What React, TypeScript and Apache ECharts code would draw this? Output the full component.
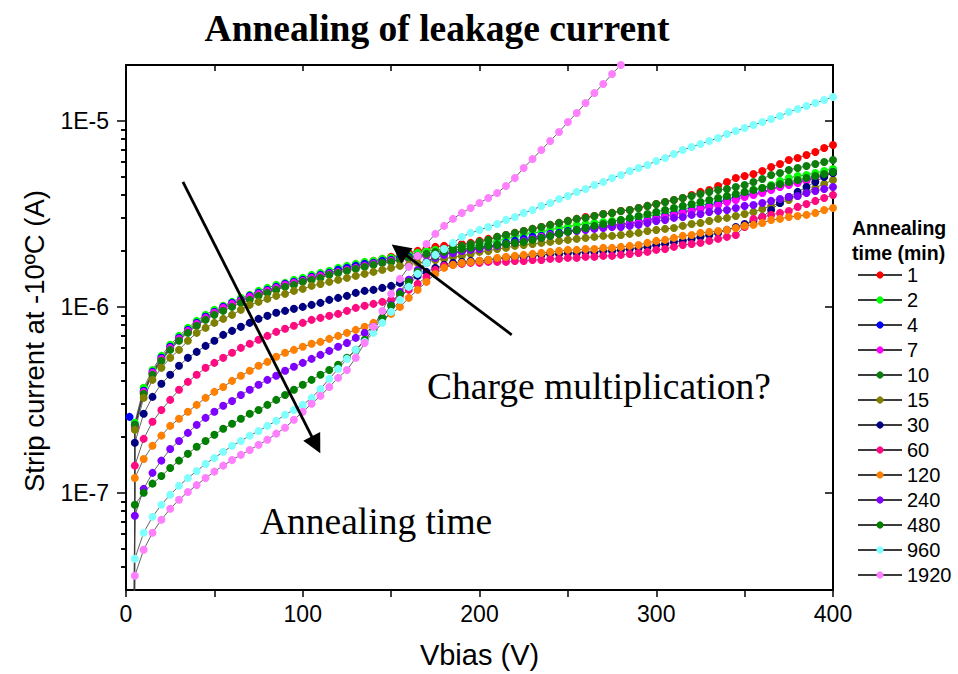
import { useEffect, useRef } from "react";
import * as echarts from "echarts";

// Bias voltage (V) of every measured point
const biasV = [
  5, 10, 15, 20, 25, 30, 35, 40, 45, 50, 55, 60, 65, 70, 75, 80, 85, 90, 95, 100,
  105, 110, 115, 120, 125, 130, 135, 140, 145, 150, 155, 160, 165, 170, 175, 180, 185, 190, 195, 200,
  205, 210, 215, 220, 225, 230, 235, 240, 245, 250, 255, 260, 265, 270, 275, 280, 285, 290, 295, 300,
  305, 310, 315, 320, 325, 330, 335, 340, 345, 350, 355, 360, 365, 370, 375, 380, 385, 390, 395, 400,
];

// Strip current in nA for each annealing time (min)
const ann1 = [224, 345, 436, 519, 595, 665, 734, 800, 862, 917, 976, 1025, 1077, 1118, 1160, 1204, 1250, 1297, 1346, 1380, 1432, 1468, 1523, 1562, 1621, 1661, 1703, 1767, 1812, 1857, 1904, 1951, 2000, 2050, 2102, 2128, 2154, 2181, 2209, 2264, 2321, 2379, 2438, 2500, 2562, 2627, 2692, 2760, 2829, 2900, 2973, 3047, 3085, 3162, 3202, 3282, 3323, 3406, 3492, 3579, 3669, 3761, 3855, 4001, 4153, 4257, 4473, 4700, 4938, 5062, 5189, 5386, 5659, 5873, 6171, 6326, 6565, 6814, 7160, 7431];
const ann2 = [238, 367, 458, 545, 625, 698, 771, 841, 906, 964, 1013, 1064, 1118, 1160, 1219, 1265, 1313, 1346, 1397, 1432, 1486, 1523, 1562, 1621, 1661, 1703, 1746, 1767, 1812, 1834, 1880, 1904, 1951, 2000, 2025, 2050, 2076, 2102, 2128, 2154, 2209, 2264, 2321, 2379, 2438, 2500, 2531, 2594, 2659, 2692, 2760, 2794, 2829, 2864, 2900, 2936, 2973, 3010, 3085, 3124, 3202, 3242, 3323, 3449, 3535, 3579, 3669, 3808, 3903, 4051, 4257, 4363, 4529, 4758, 4938, 5062, 5125, 5254, 5386, 5521];
const ann4 = [232, 354, 447, 532, 610, 681, 752, 820, 884, 940, 1000, 1051, 1091, 1146, 1189, 1234, 1281, 1329, 1363, 1397, 1450, 1486, 1523, 1581, 1621, 1661, 1703, 1724, 1767, 1789, 1834, 1857, 1880, 1904, 1927, 1951, 1976, 2000, 2050, 2076, 2128, 2154, 2209, 2264, 2321, 2379, 2409, 2469, 2500, 2562, 2594, 2659, 2692, 2726, 2760, 2794, 2829, 2864, 2936, 3010, 3085, 3162, 3242, 3323, 3406, 3492, 3624, 3761, 3855, 4001, 4051, 4153, 4310, 4473, 4585, 4700, 4818, 5000, 5125, 5319];
const ann7 = [226, 349, 442, 525, 602, 673, 743, 810, 873, 929, 988, 1038, 1077, 1132, 1175, 1219, 1265, 1313, 1346, 1380, 1432, 1468, 1505, 1542, 1581, 1621, 1661, 1703, 1724, 1767, 1789, 1812, 1857, 1880, 1904, 1927, 1951, 1976, 2000, 2050, 2076, 2128, 2181, 2209, 2264, 2321, 2379, 2438, 2469, 2531, 2594, 2627, 2659, 2692, 2726, 2760, 2794, 2829, 2900, 2973, 3047, 3124, 3202, 3282, 3364, 3449, 3535, 3669, 3761, 3903, 4001, 4101, 4257, 4418, 4529, 4642, 4758, 4938, 5062, 5254];
const ann10 = [232, 341, 431, 513, 587, 657, 725, 791, 851, 906, 952, 1000, 1051, 1091, 1146, 1189, 1234, 1281, 1313, 1363, 1397, 1432, 1486, 1523, 1562, 1601, 1641, 1682, 1724, 1746, 1789, 1834, 1880, 1927, 1976, 2025, 2076, 2128, 2181, 2236, 2292, 2379, 2438, 2500, 2562, 2627, 2692, 2760, 2829, 2900, 2973, 3010, 3085, 3162, 3202, 3282, 3323, 3406, 3492, 3579, 3669, 3761, 3855, 3952, 4051, 4153, 4257, 4310, 4418, 4529, 4700, 4878, 5125, 5254, 5453, 5589, 5730, 5873, 6020, 6171];
const ann15 = [218, 324, 405, 470, 532, 587, 657, 725, 771, 820, 862, 906, 964, 1025, 1064, 1104, 1146, 1175, 1219, 1250, 1297, 1329, 1363, 1397, 1432, 1468, 1505, 1542, 1581, 1621, 1661, 1682, 1724, 1746, 1789, 1812, 1857, 1880, 1927, 1976, 2000, 2050, 2076, 2128, 2154, 2181, 2209, 2236, 2264, 2292, 2321, 2350, 2379, 2409, 2409, 2438, 2469, 2500, 2562, 2594, 2627, 2659, 2726, 2794, 2829, 2900, 2973, 3010, 3085, 3162, 3242, 3364, 3492, 3624, 3761, 3952, 4153, 4363, 4585, 4818];
const ann30 = [186, 266, 328, 386, 431, 482, 532, 573, 617, 657, 707, 743, 781, 820, 862, 895, 929, 952, 976, 1000, 1025, 1051, 1091, 1118, 1146, 1189, 1219, 1234, 1265, 1297, 1346, 1397, 1468, 1542, 1621, 1682, 1724, 1746, 1767, 1767, 1789, 1812, 1834, 1857, 1857, 1880, 1904, 1927, 1927, 1951, 1951, 1976, 1976, 2000, 2000, 2025, 2050, 2076, 2102, 2154, 2181, 2236, 2264, 2321, 2379, 2438, 2500, 2594, 2692, 2794, 2900, 3047, 3323, 3624, 3903, 4153, 4418, 4700, 5000, 5254];
const ann60 = [140, 195, 241, 279, 316, 358, 395, 431, 470, 500, 532, 566, 602, 633, 665, 698, 734, 762, 791, 820, 851, 873, 895, 917, 952, 988, 1013, 1038, 1064, 1091, 1146, 1234, 1329, 1450, 1581, 1661, 1682, 1703, 1724, 1724, 1746, 1746, 1746, 1767, 1767, 1789, 1789, 1812, 1812, 1834, 1834, 1857, 1857, 1880, 1880, 1904, 1927, 1951, 1976, 2025, 2050, 2102, 2154, 2181, 2209, 2264, 2321, 2379, 2438, 2692, 2973, 3047, 3124, 3202, 3282, 3449, 3579, 3715, 3855, 4001];
const ann120 = [120, 152, 179, 203, 229, 250, 273, 297, 324, 349, 371, 400, 426, 453, 482, 506, 539, 566, 587, 610, 633, 648, 673, 698, 725, 752, 781, 820, 862, 917, 1000, 1118, 1234, 1363, 1505, 1621, 1682, 1724, 1746, 1767, 1789, 1834, 1857, 1880, 1904, 1927, 1951, 1976, 2000, 2025, 2025, 2050, 2050, 2076, 2076, 2102, 2128, 2154, 2209, 2264, 2292, 2350, 2409, 2438, 2500, 2531, 2562, 2594, 2659, 2726, 2760, 2829, 2936, 2973, 3047, 3085, 3124, 3202, 3323, 3406];
const ann240 = [75.2, 105, 128, 149, 172, 190, 210, 232, 253, 273, 294, 312, 336, 358, 381, 405, 426, 453, 476, 500, 525, 552, 580, 610, 640, 681, 725, 781, 873, 1025, 1204, 1397, 1581, 1746, 1834, 1904, 1951, 2000, 2025, 2050, 2102, 2128, 2181, 2209, 2264, 2321, 2350, 2409, 2469, 2531, 2562, 2594, 2627, 2659, 2692, 2692, 2726, 2760, 2829, 2900, 2936, 3010, 3047, 3124, 3162, 3242, 3282, 3323, 3406, 3492, 3535, 3624, 3715, 3808, 3903, 3952, 4101, 4204, 4310, 4418];
const ann480 = [86.2, 100, 112, 123, 136, 149, 162, 177, 190, 205, 221, 235, 250, 266, 279, 297, 316, 336, 358, 381, 405, 431, 458, 488, 532, 587, 665, 752, 873, 1013, 1175, 1363, 1542, 1724, 1880, 1976, 2025, 2050, 2076, 2102, 2128, 2154, 2181, 2209, 2236, 2292, 2350, 2409, 2469, 2531, 2594, 2659, 2726, 2794, 2864, 2936, 3010, 3085, 3162, 3242, 3323, 3406, 3492, 3579, 3669, 3761, 3855, 3952, 4051, 4153, 4257, 4363, 4473, 4585, 4700, 4818, 4938, 5062, 5189, 5319];
const ann960 = [44.2, 61.0, 74.3, 86.2, 97.6, 109, 120, 131, 143, 154, 166, 179, 190, 203, 215, 229, 244, 263, 279, 297, 324, 362, 410, 464, 525, 587, 648, 725, 820, 940, 1091, 1281, 1505, 1724, 1904, 2050, 2209, 2379, 2500, 2594, 2692, 2794, 2936, 3047, 3202, 3323, 3492, 3624, 3808, 3952, 4153, 4310, 4529, 4700, 4938, 5125, 5386, 5589, 5801, 6095, 6326, 6647, 6985, 7249, 7523, 7808, 8103, 8515, 8837, 9171, 9518, 9878, 10251, 10639, 11179, 11601, 12041, 12496, 12969, 13460];
// measured up to 290 V only (it leaves the top of the frame)
const ann1920 = [35.8, 49.4, 61.0, 71.6, 82.0, 91.7, 101, 110, 120, 130, 140, 150, 160, 170, 181, 193, 208, 224, 247, 273, 301, 332, 371, 415, 458, 532, 640, 781, 952, 1175, 1414, 1641, 1880, 2181, 2469, 2726, 2973, 3202, 3406, 3624, 3855, 4101, 4473, 4938, 5589, 6248, 6985, 7808, 8728, 9878, 11041, 12496, 14143, 15810, 17894, 20003, 22361, 24996];

// first reading of each sweep [V, nA]: below the frame, except for 4 min
const leadBelowFrame = [4.5, 5];
const leadBlue = [2, 256];

const seriesNames = ["1", "2", "4", "7", "10", "15", "30", "60", "120", "240", "480", "960", "1920"];
const seriesValues = [ann1, ann2, ann4, ann7, ann10, ann15, ann30, ann60, ann120, ann240, ann480, ann960, ann1920];
const seriesColors = ["#ff0000", "#00ff00", "#0000ff", "#ff00ff", "#0d7d0d", "#808000", "#000080", "#ff0a80", "#ff8000", "#8000ff", "#008000", "#80ffff", "#ff80ff"];

// axis ticks (A)
const yMajorTicks = [1e-7, 1e-6, 1e-5];
const yMinorTicks = [4e-8, 5e-8, 6e-8, 7e-8, 8e-8, 9e-8, 2e-7, 3e-7, 4e-7, 5e-7, 6e-7, 7e-7, 8e-7, 9e-7, 2e-6, 3e-6, 4e-6, 5e-6, 6e-6, 7e-6, 8e-6, 9e-6];

// annotation arrows [V, A]
const arrowAnnealFrom = [32.2, 4.7e-6];
const arrowAnnealTo = [107.5, 1.81e-7];
const arrowChargeFrom = [218.2, 7.07e-7];
const arrowChargeTo = [154.6, 2.02e-6];

const SANS = '"Liberation Sans", Arial, sans-serif';
const SERIF = '"Liberation Serif", "Times New Roman", serif';
const Y_MIN = 3e-8;
const Y_MAX = 2e-5;

function buildOption() {
  const lineAxis = { color: "#000", width: 2 };
  const tickStyle = { color: "#000", width: 1.5 };
  const logAxisBase = {
    type: "log",
    logBase: 10,
    min: Y_MIN,
    max: Y_MAX,
    splitLine: { show: false },
    minorTick: { show: false },
  };
  const series = seriesNames.map((name, idx) => {
    const lead = idx === 2 ? leadBlue : leadBelowFrame;
    const data = [[lead[0], lead[1] * 1e-9]].concat(
      seriesValues[idx].map((v, i) => [biasV[i], v * 1e-9])
    );
    const s: any = {
      type: "line",
      name,
      xAxisIndex: 0,
      yAxisIndex: 0,
      data,
      symbol: "circle",
      symbolSize: 8,
      showSymbol: true,
      showAllSymbol: true,
      clip: true,
      silent: true,
      itemStyle: { color: seriesColors[idx] },
      lineStyle: { color: "#3c3c3c", width: 0.8 },
      emphasis: { disabled: true },
      z: 2,
    };
    if (idx === 0) {
      s.markLine = {
        silent: true,
        symbol: ["none", "triangle"],
        symbolSize: 19,
        label: { show: false },
        lineStyle: { color: "#000", width: 2.8, type: "solid" },
        itemStyle: { color: "#000" },
        emphasis: { disabled: true },
        data: [
          [{ coord: arrowAnnealFrom }, { coord: arrowAnnealTo }],
          [{ coord: arrowChargeFrom }, { coord: arrowChargeTo }],
        ],
        z: 5,
      };
    }
    return s;
  });

  return {
    animation: false,
    backgroundColor: "#fff",
    grid: { left: 126, right: 125, top: 65, bottom: 84, containLabel: false, outerBoundsMode: "none" },
    xAxis: [
      {
        type: "value",
        min: 0,
        max: 400,
        interval: 50,
        position: "bottom",
        axisLine: { show: true, onZero: false, lineStyle: lineAxis },
        axisTick: { show: true, inside: false, length: 7, lineStyle: tickStyle },
        axisLabel: {
          show: true,
          margin: 12,
          fontSize: 23,
          fontFamily: SANS,
          color: "#000",
          formatter: (v: number) => (v % 100 === 0 ? String(v) : ""),
        },
        splitLine: { show: false },
        name: "Vbias (V)",
        nameLocation: "middle",
        nameGap: 50,
        nameTextStyle: { fontSize: 29, fontFamily: SANS, color: "#000" },
      },
      {
        type: "value",
        min: 0,
        max: 400,
        interval: 50,
        position: "top",
        axisLine: { show: true, onZero: false, lineStyle: lineAxis },
        axisTick: { show: true, inside: true, length: 6, lineStyle: tickStyle },
        axisLabel: { show: false },
        splitLine: { show: false },
      },
    ],
    yAxis: [
      {
        ...logAxisBase,
        position: "left",
        axisLine: { show: true, onZero: false, lineStyle: lineAxis },
        axisTick: { show: true, inside: false, length: 9, lineStyle: tickStyle, customValues: yMajorTicks },
        axisLabel: {
          show: true,
          customValues: yMajorTicks,
          margin: 17,
          fontSize: 23,
          fontFamily: SANS,
          color: "#000",
          formatter: (v: number) => {
            const e = Math.log10(v);
            return Math.abs(e - Math.round(e)) < 1e-6 ? "1E" + Math.round(e) : "";
          },
        },
      },
      {
        ...logAxisBase,
        position: "left",
        axisLine: { show: false },
        axisTick: { show: true, inside: false, length: 5, lineStyle: tickStyle, customValues: yMinorTicks },
        axisLabel: { show: false },
      },
      {
        ...logAxisBase,
        position: "right",
        axisLine: { show: true, onZero: false, lineStyle: lineAxis },
        axisTick: { show: true, inside: true, length: 8, lineStyle: tickStyle, customValues: yMajorTicks },
        axisLabel: { show: false },
      },
      {
        ...logAxisBase,
        position: "right",
        axisLine: { show: false },
        axisTick: { show: true, inside: true, length: 5, lineStyle: tickStyle, customValues: yMinorTicks },
        axisLabel: { show: false },
      },
    ],
    legend: {
      orient: "vertical",
      left: 852,
      top: 259,
      itemWidth: 44,
      itemHeight: 9,
      itemGap: 3,
      selectedMode: false,
      data: seriesNames,
      textStyle: { fontSize: 20, fontFamily: SANS, color: "#000", lineHeight: 22 },
    },
    graphic: [
      {
        type: "text",
        x: 437,
        y: 28,
        style: { text: "Annealing of leakage current", fontSize: 37.5, fontWeight: "bold", fontFamily: SERIF, fill: "#000", align: "center", verticalAlign: "middle" },
      },
      {
        type: "text",
        x: 34,
        y: 341,
        rotation: Math.PI / 2,
        style: { text: "Strip current at -10ºC (A)", fontSize: 27.5, fontFamily: SANS, fill: "#000", align: "center", verticalAlign: "middle" },
      },
      {
        type: "text",
        x: 852,
        y: 228,
        style: { text: "Annealing", fontSize: 19.5, fontWeight: "bold", fontFamily: SANS, fill: "#000", align: "left", verticalAlign: "middle" },
      },
      {
        type: "text",
        x: 852,
        y: 253,
        style: { text: "time (min)", fontSize: 19.5, fontWeight: "bold", fontFamily: SANS, fill: "#000", align: "left", verticalAlign: "middle" },
      },
      {
        type: "text",
        x: 427,
        y: 386,
        style: { text: "Charge multiplication?", fontSize: 37.5, fontFamily: SERIF, fill: "#000", align: "left", verticalAlign: "middle" },
      },
      {
        type: "text",
        x: 260,
        y: 521,
        style: { text: "Annealing time", fontSize: 37.5, fontFamily: SERIF, fill: "#000", align: "left", verticalAlign: "middle" },
      },
    ],
    series,
  };
}

export default function App() {
  const ref = useRef<HTMLDivElement>(null);
  useEffect(() => {
    if (!ref.current) return;
    const chart = echarts.init(ref.current, null, { renderer: "svg" });
    chart.setOption(buildOption() as any);
    return () => chart.dispose();
  }, []);
  return (
    <div
      ref={ref}
      style={{ position: "fixed", left: 0, top: 0, width: 958, height: 674, background: "#fff" }}
    />
  );
}
